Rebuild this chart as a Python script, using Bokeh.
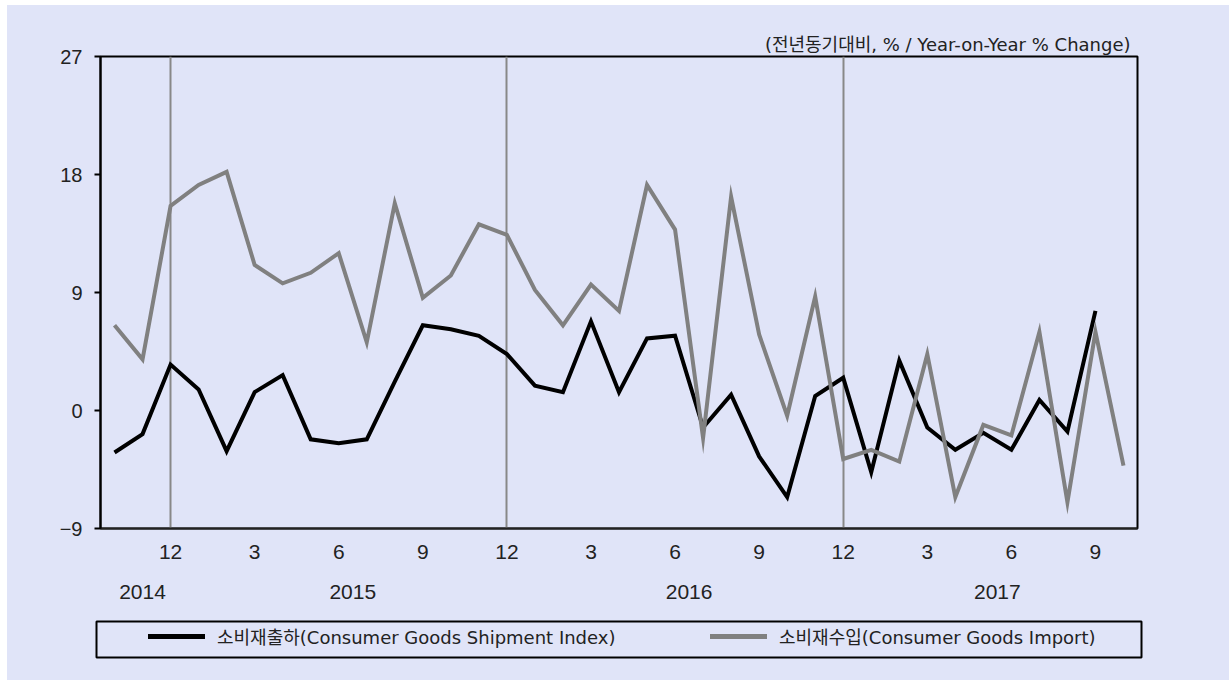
from bokeh.plotting import figure
from bokeh.models import Range1d, FixedTicker, LinearAxis, Title, Legend, LegendItem
from bokeh.layouts import column, row
from bokeh.embed import file_html
from bokeh.resources import INLINE

# ---------------- data ----------------
months = [
    "2014-10", "2014-11", "2014-12",
    "2015-01", "2015-02", "2015-03", "2015-04", "2015-05", "2015-06",
    "2015-07", "2015-08", "2015-09", "2015-10", "2015-11", "2015-12",
    "2016-01", "2016-02", "2016-03", "2016-04", "2016-05", "2016-06",
    "2016-07", "2016-08", "2016-09", "2016-10", "2016-11", "2016-12",
    "2017-01", "2017-02", "2017-03", "2017-04", "2017-05", "2017-06",
    "2017-07", "2017-08", "2017-09", "2017-10",
]

# 소비재출하 (Consumer Goods Shipment Index), YoY %
shipment = [
    -3.2, -1.8, 3.5,
    1.6, -3.1, 1.4, 2.7, -2.2, -2.5, -2.2, 2.2, 6.5, 6.2, 5.7, 4.3,
    1.9, 1.4, 6.8, 1.4, 5.5, 5.7, -1.3, 1.2, -3.5, -6.6, 1.1, 2.5,
    -4.7, 3.8, -1.3, -3.0, -1.7, -3.0, 0.8, -1.6, 7.6, float("nan"),
]

# 소비재수입 (Consumer Goods Import), YoY %
imports = [
    6.5, 3.9, 15.6,
    17.2, 18.2, 11.1, 9.7, 10.5, 12.0, 5.2, 15.8, 8.6, 10.3, 14.2, 13.4,
    9.2, 6.5, 9.6, 7.6, 17.2, 13.8, -2.1, 16.3, 5.8, -0.4, 8.7, -3.7,
    -3.0, -3.9, 4.3, -6.6, -1.1, -1.9, 6.0, -7.0, 6.0, -4.2,
]

y_ticks = [-9, 0, 9, 18, 27]
tick_months = ["12", "3", "6", "9"]
years = ["2014", "2015", "2016", "2017"]
year_anchor = [1.0, 8.5, 20.5, 31.5]  # label placement (month index)

series_labels = [
    "소비재출하(Consumer Goods Shipment Index)",
    "소비재수입(Consumer Goods Import)",
]
unit_text = "(전년동기대비, % / Year-on-Year % Change)"

# ---------------- derived ----------------
x = list(range(len(months)))
month_num = [str(int(m.split("-")[1])) for m in months]
month_tick_pos = [i for i, m in enumerate(month_num) if m in tick_months]
dec_pos = [i for i, m in enumerate(month_num) if m == "12"]

BG = "#E0E4F8"
TXT = "#222222"
LATIN = "Liberation Sans"
MIX = "DejaVu Sans, Noto Sans CJK KR"

p = figure(
    width=1222, height=603,
    x_range=Range1d(-0.5, len(months) - 0.5),
    y_range=Range1d(-9, 27),
    output_backend="svg", toolbar_location=None,
    background_fill_color=BG, border_fill_color=BG,
    min_border_left=93, min_border_right=92,
    min_border_top=51, min_border_bottom=80,
)
p.outline_line_color = "black"
p.outline_line_width = 2

p.ygrid.visible = False
p.xgrid.ticker = FixedTicker(ticks=dec_pos)
p.xgrid.grid_line_color = "#888888"
p.xgrid.grid_line_width = 2

# y axis
p.yaxis.ticker = FixedTicker(ticks=y_ticks)
p.yaxis.major_label_overrides = {t: (str(t).replace("-", "\u2212")) for t in y_ticks}
p.yaxis.axis_line_color = "black"
p.yaxis.axis_line_width = 2
p.yaxis.major_tick_line_color = "black"
p.yaxis.major_tick_line_width = 2
p.yaxis.major_tick_out = 6
p.yaxis.major_tick_in = 0
p.yaxis.minor_tick_line_color = None
p.yaxis.major_label_standoff = 12
p.yaxis.major_label_text_font = LATIN
p.yaxis.major_label_text_font_size = "20px"
p.yaxis.major_label_text_color = TXT

# x axis (months)
p.xaxis.ticker = FixedTicker(ticks=month_tick_pos)
p.xaxis.major_label_overrides = {i: month_num[i] for i in month_tick_pos}
p.xaxis.axis_line_color = "#222222"
p.xaxis.axis_line_width = 2
p.xaxis.major_tick_line_color = None
p.xaxis.major_tick_out = 0
p.xaxis.major_tick_in = 0
p.xaxis.minor_tick_line_color = None
p.xaxis.major_label_standoff = 16
p.xaxis.major_label_text_font = LATIN
p.xaxis.major_label_text_font_size = "21px"
p.xaxis.major_label_text_color = TXT

# year axis
yax = LinearAxis(
    ticker=FixedTicker(ticks=year_anchor),
    major_label_overrides={pos: yr for pos, yr in zip(year_anchor, years)},
    axis_line_color=None, major_tick_line_color=None, minor_tick_line_color=None,
    major_tick_out=0, major_tick_in=0, major_label_standoff=23,
    major_label_text_font=LATIN, major_label_text_font_size="21px",
    major_label_text_color=TXT,
)
p.add_layout(yax, "below")

p.line(x, shipment, line_color="black", line_width=4, line_join="miter")
p.line(x, imports, line_color="#808080", line_width=4, line_join="miter")

p.add_layout(Title(text=unit_text, align="right", offset=7, standoff=4,
                   text_font=MIX, text_font_size="18px", text_font_style="normal",
                   text_color=TXT), "above")

# ---------------- legend strip ----------------
lf = figure(
    width=1222, height=72,
    x_range=Range1d(1000, 1001), y_range=Range1d(1000, 1001),
    output_backend="svg", toolbar_location=None,
    background_fill_color=BG, border_fill_color=BG,
    min_border_left=89, min_border_right=88,
    min_border_top=13, min_border_bottom=23,
)
lf.outline_line_color = "black"
lf.outline_line_width = 2
lf.axis.visible = False
lf.grid.visible = False
r1 = lf.line(x, shipment, line_color="black", line_width=5, line_cap="round")
r2 = lf.line(x, imports, line_color="#808080", line_width=5, line_cap="round")
leg = Legend(
    items=[LegendItem(label=series_labels[0], renderers=[r1]),
           LegendItem(label=series_labels[1], renderers=[r2])],
    orientation="horizontal", location=(52, 8),
    border_line_color=None, background_fill_alpha=0,
    padding=0, spacing=0, margin=0,
    glyph_width=57, glyph_height=20, label_standoff=12,
    label_width=493, label_height=20,
    label_text_font=MIX, label_text_font_size="18px", label_text_color=TXT,
)
lf.add_layout(leg, "center")

layout = column(p, row(lf, spacing=0), spacing=0, margin=(5, 0, 0, 7),
                styles={"background-color": BG})
open("out.html", "w").write(file_html(layout, INLINE))
